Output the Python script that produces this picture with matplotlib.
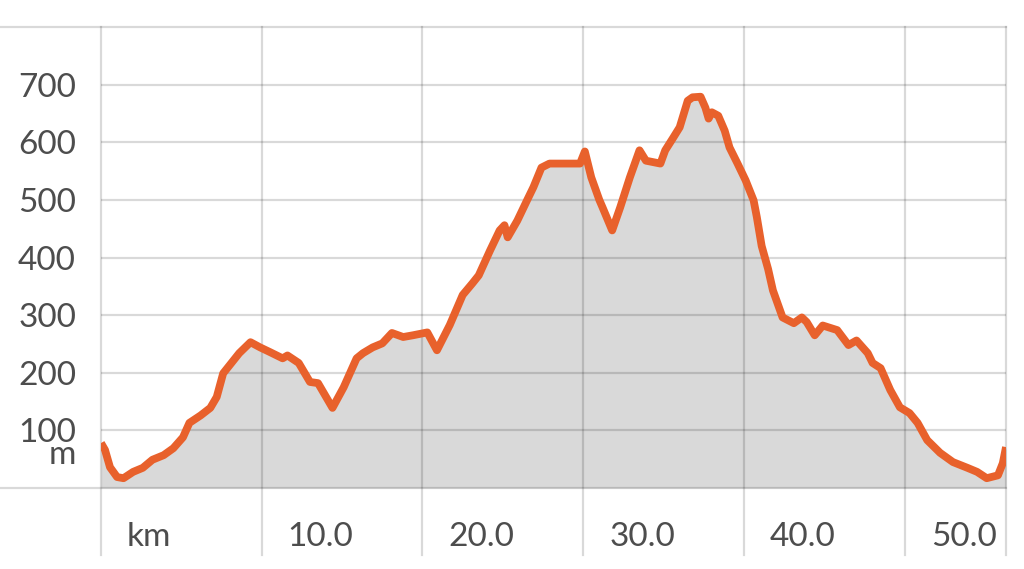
import matplotlib
matplotlib.use("Agg")
import matplotlib.pyplot as plt
import matplotlib.transforms as mtransforms

# ---- data ----
distance_km = [0.0, 0.25, 0.56, 1.0, 1.4, 2.0, 2.6, 3.2, 3.9, 4.5, 5.1, 5.5, 6.2, 6.8,
               7.2, 7.6, 8.0, 8.6, 9.3, 9.9, 10.5, 11.3, 11.6, 12.3, 13.0, 13.5, 14.4,
               15.1, 15.9, 16.3, 16.9, 17.5, 18.1, 18.8, 19.4, 20.3, 20.9, 21.7, 22.5,
               23.1, 23.5, 24.2, 24.8, 25.1, 25.3, 25.9, 26.5, 26.9, 27.4, 27.9, 29.0,
               29.8, 30.1, 30.5, 31.0, 31.2, 31.8, 32.3, 32.9, 33.5, 33.9, 34.8, 35.1,
               35.6, 36.0, 36.5, 36.8, 37.3, 37.6, 37.8, 38.0, 38.4, 38.8, 39.1, 39.6,
               40.1, 40.6, 40.8, 41.1, 41.5, 41.8, 42.4, 43.1, 43.6, 43.9, 44.4, 44.9,
               45.8, 46.5, 47.0, 47.7, 48.0, 48.5, 49.1, 49.7, 50.3, 50.8, 51.4, 52.2,
               53.0, 53.9, 54.5, 55.1, 55.8, 56.1, 56.3]
elevation_m = [78, 66, 36, 19, 17, 28, 35, 49, 57, 69, 88, 113, 126, 139,
               158, 199, 213, 234, 253, 244, 236, 225, 230, 217, 184, 182, 139,
               175, 225, 234, 244, 251, 269, 262, 265, 270, 239, 283, 335,
               355, 369, 412, 447, 456, 435, 464, 499, 522, 556, 563, 563,
               563, 584, 539, 500, 487, 447, 487, 539, 586, 568, 563, 586,
               608, 626, 672, 678, 679, 660, 641, 652, 646, 620, 591, 563,
               534, 499, 470, 420, 380, 343, 296, 286, 296, 288, 265, 282,
               274, 248, 256, 234, 217, 208, 170, 140, 130, 113, 83, 61,
               45, 35, 28, 17, 22, 43, 71]

x_ticks = [0, 10, 20, 30, 40, 50]
x_tick_labels = ["km", "10.0", "20.0", "30.0", "40.0", "50.0"]
y_ticks = [100, 200, 300, 400, 500, 600, 700]
y_tick_labels = ["100", "200", "300", "400", "500", "600", "700"]
y_unit = "m"

# ---- styling ----
W, H = 1024, 569
fig = plt.figure(figsize=(W / 100, H / 100), dpi=100)
left_px, right_px, top_px, bottom_px = 101, 1006, 27, 488
ax = fig.add_axes([left_px / W, 1 - bottom_px / H,
                   (right_px - left_px) / W, (bottom_px - top_px) / H])
x_max = distance_km[-1]
ax.set_xlim(0, x_max)
ax.set_ylim(0, 800)
for s in ax.spines.values():
    s.set_visible(False)

font = "Lato"
txt_color = "#4d4d4d"
grid_kw = dict(color="black", alpha=0.15, lw=1.6, zorder=3)

ax.fill_between(distance_km, elevation_m, 0, color="#d9d9d9", lw=0, zorder=1)
ax.plot(distance_km, elevation_m, color="#e8612c", lw=5.6, solid_joinstyle="round",
        solid_capstyle="butt", zorder=4)

# horizontal grid lines
for yv in y_ticks:
    ax.axhline(yv, **grid_kw)
ext_left = -left_px / (right_px - left_px)
for yv in (0, 800):
    ax.axhline(yv, xmin=ext_left, xmax=1.0, clip_on=False, **grid_kw)

# vertical grid lines extending below the plot
ymin_ext = -(555 - bottom_px) / (bottom_px - top_px)
for xv in x_ticks + [x_max]:
    ax.axvline(xv, ymin=ymin_ext, ymax=1.0, clip_on=False, **grid_kw)

# y labels
ax.set_yticks(y_ticks)
ax.set_yticklabels(y_tick_labels, fontsize=24, family=font, color=txt_color)
ax.tick_params(axis="y", length=0, pad=18)
ax.set_xticks([])
trans_y = mtransforms.offset_copy(ax.get_yaxis_transform(), fig=fig,
                                  x=-25 / 100 * 72, y=-25 / 100 * 72, units="points")
ax.text(0, y_ticks[0], y_unit, transform=trans_y, ha="right", va="center",
        fontsize=24, family=font, color=txt_color)

# x labels (left-aligned right of each grid line)
trans_x = mtransforms.offset_copy(ax.get_xaxis_transform(), fig=fig,
                                  x=26 / 100 * 72, units="points")
for xv, lab in zip(x_ticks, x_tick_labels):
    ax.text(xv, -(537 - bottom_px) / (bottom_px - top_px), lab, transform=trans_x,
            ha="left", va="center", fontsize=24, family=font, color=txt_color)

fig.savefig("out.png", dpi=100, facecolor="white")
